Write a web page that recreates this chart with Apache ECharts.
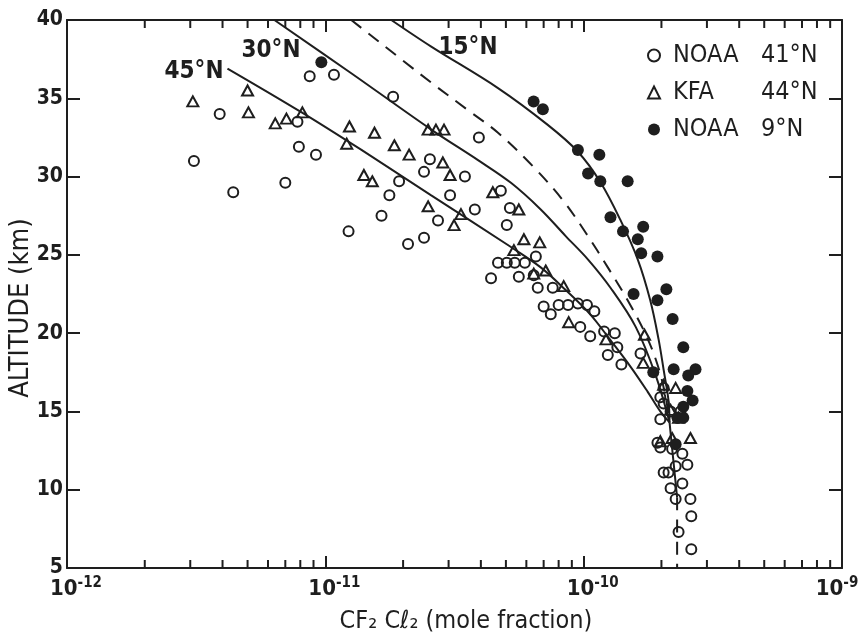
<!DOCTYPE html>
<html>
<head>
<meta charset="utf-8">
<script src="https://cdn.jsdelivr.net/npm/echarts@6/dist/echarts.min.js"></script>
<style>
  html, body { margin: 0; padding: 0; background: #fff; }
  #main { width: 859px; height: 639px; }
</style>
</head>
<body>
<div id="main"></div>
<script>
// CF2Cl2 mole fraction vs altitude (km)
var noaa41 = [
  [3.1e-12, 31.0], [3.9e-12, 34.0], [4.4e-12, 29.0], [7.0e-12, 29.6], [7.8e-12, 33.5],
  [7.9e-12, 31.9], [9.2e-12, 31.4], [8.7e-12, 36.4], [1.08e-11, 36.5], [1.23e-11, 26.5],
  [1.65e-11, 27.5], [1.77e-11, 28.8], [1.93e-11, 29.7], [2.09e-11, 25.7], [2.41e-11, 26.1],
  [2.41e-11, 30.3], [2.54e-11, 31.1], [1.83e-11, 35.1], [3.93e-11, 32.5], [3.47e-11, 30.0],
  [3.04e-11, 28.8], [2.73e-11, 27.2], [3.79e-11, 27.9], [4.78e-11, 29.1], [5.18e-11, 28.0],
  [5.04e-11, 26.9], [4.66e-11, 24.5], [5.04e-11, 24.5], [5.41e-11, 24.5], [5.92e-11, 24.5],
  [4.38e-11, 23.5], [5.61e-11, 23.6], [6.53e-11, 24.9], [6.41e-11, 23.7], [6.64e-11, 22.9],
  [7.59e-11, 22.9], [7.0e-11, 21.7], [7.46e-11, 21.2], [8.0e-11, 21.8], [8.7e-11, 21.8],
  [9.5e-11, 21.9], [1.03e-10, 21.8], [1.10e-10, 21.4], [9.7e-11, 20.4], [1.06e-10, 19.8],
  [1.20e-10, 20.1], [1.32e-10, 20.0], [1.35e-10, 19.1], [1.24e-10, 18.6], [1.40e-10, 18.0],
  [1.66e-10, 18.7], [2.04e-10, 16.5], [1.98e-10, 15.9], [2.04e-10, 15.5], [2.17e-10, 15.0],
  [2.37e-10, 15.0], [1.98e-10, 14.5], [2.31e-10, 14.6], [1.93e-10, 13.0], [1.98e-10, 12.7],
  [2.20e-10, 12.6], [2.41e-10, 12.3], [2.52e-10, 11.6], [2.27e-10, 11.5], [2.04e-10, 11.1],
  [2.13e-10, 11.1], [2.17e-10, 10.1], [2.41e-10, 10.4], [2.27e-10, 9.4], [2.59e-10, 9.4],
  [2.61e-10, 8.3], [2.33e-10, 7.3], [2.61e-10, 6.2]
];
var kfa44 = [
  [3.07e-12, 34.8], [5.0e-12, 35.5], [5.04e-12, 34.1], [6.4e-12, 33.4], [7.07e-12, 33.7],
  [8.15e-12, 34.1], [1.24e-11, 33.2], [1.21e-11, 32.1], [1.55e-11, 32.8], [1.85e-11, 32.0],
  [2.11e-11, 31.4], [1.41e-11, 30.1], [1.52e-11, 29.7], [2.50e-11, 33.0], [2.68e-11, 33.0],
  [2.88e-11, 33.0], [2.85e-11, 30.9], [3.04e-11, 30.1], [2.50e-11, 28.1], [3.35e-11, 27.6],
  [3.15e-11, 26.9], [4.45e-11, 29.0], [5.61e-11, 27.9], [5.87e-11, 26.0], [6.76e-11, 25.8],
  [5.37e-11, 25.3], [6.41e-11, 23.8], [7.13e-11, 24.0], [8.37e-11, 23.0], [8.75e-11, 20.7],
  [1.22e-10, 19.6], [1.72e-10, 19.9], [1.70e-10, 18.1], [2.04e-10, 16.7], [2.27e-10, 16.5],
  [2.17e-10, 15.1], [2.33e-10, 14.6], [2.59e-10, 13.3], [1.98e-10, 13.1], [2.20e-10, 13.3]
];
var noaa9 = [
  [9.65e-12, 37.3], [6.4e-11, 34.8], [6.95e-11, 34.3], [9.5e-11, 31.7], [1.15e-10, 31.4],
  [1.04e-10, 30.2], [1.16e-10, 29.7], [1.48e-10, 29.7], [1.27e-10, 27.4], [1.42e-10, 26.5],
  [1.70e-10, 26.8], [1.62e-10, 26.0], [1.67e-10, 25.1], [1.93e-10, 24.9], [1.56e-10, 22.5],
  [2.09e-10, 22.8], [1.93e-10, 22.1], [2.21e-10, 20.9], [2.43e-10, 19.1], [2.71e-10, 17.7],
  [2.54e-10, 17.3], [2.23e-10, 17.7], [1.86e-10, 17.5], [2.52e-10, 16.3], [2.64e-10, 15.7],
  [2.43e-10, 15.3], [2.31e-10, 14.6], [2.43e-10, 14.6], [2.27e-10, 12.9]
];

// model profiles
var curve45 = [
  [4.18e-12, 36.9], [8.1e-12, 34.1], [1.38e-11, 31.7], [2.57e-11, 28.8], [5.23e-11, 25.5],
  [6.82e-11, 24.2], [8.52e-11, 22.75], [1.06e-10, 21.2], [1.27e-10, 19.55], [1.52e-10, 17.85],
  [1.77e-10, 16.25], [1.98e-10, 15.0], [2.15e-10, 14.3]
];
var curve30 = [
  [6.35e-12, 40], [1.26e-11, 36.6], [2.57e-11, 33.0], [3.90e-11, 31.05], [5.23e-11, 29.6],
  [6.82e-11, 27.9], [8.52e-11, 26.2], [1.04e-10, 24.7], [1.27e-10, 22.9], [1.59e-10, 20.4],
  [1.90e-10, 17.3], [2.15e-10, 14.3]
];
var curveDash = [
  [1.26e-11, 40], [2.57e-11, 36.0], [3.56e-11, 34.25], [4.66e-11, 32.8], [6.41e-11, 30.6],
  [8.3e-11, 28.5], [1.02e-10, 26.4], [1.24e-10, 24.2], [1.48e-10, 22.1], [1.74e-10, 19.9],
  [1.93e-10, 18.0], [2.07e-10, 16.05], [2.15e-10, 14.3]
];
var curve15 = [
  [1.80e-11, 40], [2.57e-11, 38.3], [4.66e-11, 35.65], [7.26e-11, 33.3], [9.48e-11, 31.6],
  [1.16e-10, 29.65], [1.39e-10, 27.2], [1.62e-10, 24.7], [1.81e-10, 22.1], [1.95e-10, 19.6],
  [2.04e-10, 17.65], [2.13e-10, 15.7], [2.15e-10, 14.3]
];
var tropoSolid = [[2.15e-10, 14.3], [2.22e-10, 12.0], [2.3e-10, 9.5]];
var tropoDash = [[2.3e-10, 9.5], [2.3e-10, 5]];

var minorTicks = [];
[1e-12, 1e-11, 1e-10].forEach(function (d) {
  for (var k = 2; k <= 9; k++) minorTicks.push([k * d, 5]);
});

var ink = '#1e1e1e';
var narrow = '"Liberation Sans Narrow", "DejaVu Sans Condensed", sans-serif';
var round = '"DejaVu Sans Condensed", "DejaVu Sans", sans-serif';

var chart = echarts.init(document.getElementById('main'));

function curve(data, dashed) {
  return {
    type: 'line', data: data, showSymbol: false, smooth: 0.35, silent: true, z: 2,
    lineStyle: {color: ink, width: 2, type: dashed ? [13, 9] : 'solid'}
  };
}

var option = {
  animation: false,
  backgroundColor: '#fff',
  grid: {left: 67, right: 17, top: 20, bottom: 71, outerBoundsMode: 'none', containLabel: false},
  legend: {
    orient: 'vertical', left: 642, top: 38, itemGap: 12, itemWidth: 12, itemHeight: 12,
    data: ['NOAA 41°N', 'KFA 44°N', 'NOAA 9°N'],
    formatter: function (name) {
      var p = name.split(' ');
      return '{a|' + p[0] + '}{b|' + p[1] + '}';
    },
    textStyle: {
      color: ink, fontFamily: round, fontSize: 25,
      rich: {
        a: {width: 88, fontSize: 25, fontFamily: round, color: ink, padding: [0, 0, 0, 8]},
        b: {fontSize: 25, fontFamily: round, color: ink}
      }
    }
  },
  xAxis: [{
    type: 'log', logBase: 10, min: 1e-12, max: 1e-9,
    axisLine: {lineStyle: {color: ink, width: 2}},
    axisTick: {inside: true, length: 12, lineStyle: {color: ink, width: 2}},
    splitLine: {show: false},
    axisLabel: {
      margin: 8, color: ink,
      formatter: function (v) {
        var e = Math.round(Math.log10(v));
        return e === -9 ? '{c|10}{t|' + e + '}' : '{b|10}{s|' + e + '}';
      },
      rich: {
        b: {fontFamily: narrow, fontWeight: 'bold', fontSize: 22, color: ink, padding: [0, 0, 0, 18]},
        c: {fontFamily: narrow, fontWeight: 'bold', fontSize: 22, color: ink},
        s: {fontFamily: narrow, fontWeight: 'bold', fontSize: 15, color: ink, padding: [0, 0, 12, 0]},
        t: {fontFamily: narrow, fontWeight: 'bold', fontSize: 15, color: ink, padding: [0, 10, 12, 0]}
      }
    }
  }, {
    type: 'log', logBase: 10, min: 1e-12, max: 1e-9, position: 'top',
    axisLine: {lineStyle: {color: ink, width: 2}},
    axisTick: {inside: true, length: 12, lineStyle: {color: ink, width: 2}},
    axisLabel: {show: false}, splitLine: {show: false}
  }],
  yAxis: [{
    type: 'value', min: 5, max: 40, interval: 5,
    axisLine: {show: true, lineStyle: {color: ink, width: 2}},
    axisTick: {show: true, inside: true, length: 13, lineStyle: {color: ink, width: 2}},
    splitLine: {show: false},
    axisLabel: {margin: 4, color: ink, fontFamily: narrow, fontWeight: 'bold', fontSize: 21}
  }, {
    type: 'value', min: 5, max: 40, interval: 5, position: 'right',
    axisLine: {show: true, lineStyle: {color: ink, width: 2}},
    axisTick: {show: true, inside: true, length: 13, lineStyle: {color: ink, width: 2}},
    axisLabel: {show: false}, splitLine: {show: false}
  }],
  graphic: [
    {type: 'text', x: 21, y: 308, rotation: Math.PI / 2,
      style: {text: 'ALTITUDE (km)', fill: ink, font: '27px ' + round, textAlign: 'center', textVerticalAlign: 'middle'}},
    {type: 'text', x: 466, y: 621,
      style: {text: 'CF\u2082 C\u2113\u2082 (mole fraction)', fill: ink, font: '25px ' + round, textAlign: 'center', textVerticalAlign: 'middle'}},
    {type: 'text', x: 194, y: 72,
      style: {text: '45°N', fill: ink, font: 'bold 24px ' + narrow, textAlign: 'center', textVerticalAlign: 'middle'}},
    {type: 'text', x: 271, y: 51,
      style: {text: '30°N', fill: ink, font: 'bold 24px ' + narrow, textAlign: 'center', textVerticalAlign: 'middle'}},
    {type: 'text', x: 468, y: 48,
      style: {text: '15°N', fill: ink, font: 'bold 24px ' + narrow, textAlign: 'center', textVerticalAlign: 'middle'}}
  ],
  series: [
    curve(curve45, false),
    curve(curve30, false),
    curve(curveDash, true),
    curve(curve15, false),
    curve(tropoSolid, false),
    curve(tropoDash, true),
    {
      type: 'custom', silent: true, clip: false, z: 5, data: minorTicks,
      renderItem: function (params, api) {
        var v = api.value(0);
        var b = api.coord([v, 5]);
        var t = api.coord([v, 40]);
        return {
          type: 'group', children: [
            {type: 'line', shape: {x1: b[0], y1: b[1], x2: b[0], y2: b[1] - 8}, style: {stroke: ink, lineWidth: 2}},
            {type: 'line', shape: {x1: t[0], y1: t[1], x2: t[0], y2: t[1] + 8}, style: {stroke: ink, lineWidth: 2}}
          ]
        };
      }
    },
    {
      name: 'NOAA 41°N', type: 'scatter', data: noaa41, symbol: 'circle', symbolSize: 10, z: 4,
      itemStyle: {color: 'transparent', borderColor: ink, borderWidth: 2, opacity: 1}
    },
    {
      name: 'KFA 44°N', type: 'scatter', data: kfa44, symbol: 'triangle', symbolSize: [11, 10], z: 4,
      itemStyle: {color: 'transparent', borderColor: ink, borderWidth: 2, opacity: 1}
    },
    {
      name: 'NOAA 9°N', type: 'scatter', data: noaa9, symbol: 'circle', symbolSize: 12, z: 4,
      itemStyle: {color: ink, opacity: 1}
    }
  ]
};

chart.setOption(option);
</script>
</body>
</html>
